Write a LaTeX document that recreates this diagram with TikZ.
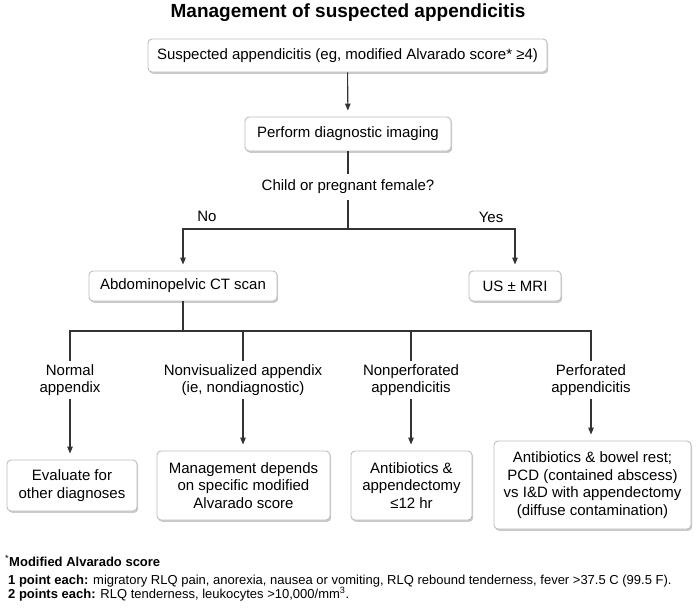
\documentclass[tikz,border=0pt]{standalone}
\usepackage{fontspec}
\setmainfont{Liberation Sans}
\usetikzlibrary{arrows.meta,shadows}

\definecolor{linegray}{HTML}{333333}
\definecolor{boxgray}{HTML}{BDBDBD}

\begin{document}
\begin{tikzpicture}[x=1pt, y=-1pt,
    box/.style={draw=boxgray, line width=0.9pt, rounded corners=4pt, fill=white, align=center, inner sep=0pt,
      font=\fontsize{15}{17.7}\selectfont, drop shadow={shadow xshift=1.2pt, shadow yshift=-1.8pt, fill=black!60, opacity=0.35}},
    lbl/.style={align=center, inner xsep=0pt, inner ysep=3pt, font=\fontsize{15}{17.7}\selectfont},
    ln/.style={draw=linegray, line width=1.1pt},
    arr/.style={ln, -{Triangle[length=7pt, width=5.5pt]}, shorten >=6pt},
    fn/.style={anchor=base west, inner sep=0pt, font=\fontsize{13}{15}\selectfont}]

    \useasboundingbox (0,0) rectangle (696,613);

    \node[font=\bfseries\fontsize{19}{22}\selectfont] (title) at (348,13) {Management of suspected appendicitis};

    % top of the chart
    \node[box, minimum width=399pt, minimum height=33pt] (susp) at (347.5,55.5) {Suspected appendicitis (eg, modified Alvarado score* ≥4)};
    \node[box, minimum width=206pt, minimum height=34pt] (img)  at (348,134)    {Perform diagnostic imaging};
    \node[lbl, minimum height=26pt]                      (quest) at (348,187)   {Child or pregnant female?};
    \coordinate (split) at (348,229);

    \node[lbl] (no)  at (207,216) {No};
    \node[lbl] (yes) at (491,217) {Yes};

    \node[box, minimum width=188pt, minimum height=30pt] (ct) at (183,286) {Abdominopelvic CT scan};
    \node[box, minimum width=92pt,  minimum height=30pt] (us) at (515,286) {US ± MRI};

    \draw[arr] (susp) -- (img);
    \draw[ln]  (img) -- (quest);
    \draw[ln]  (quest) -- (split);
    \draw[arr] (split) -| (ct);
    \draw[arr] (split) -| (us);

    % CT findings
    \coordinate (fan) at (183,331);
    \node[lbl] (normal)  at (70,380)  {Normal\\appendix};
    \node[lbl] (nonvis)  at (243,380) {Nonvisualized appendix\\(ie, nondiagnostic)};
    \node[lbl] (nonperf) at (411,380) {Nonperforated\\appendicitis};
    \node[lbl] (perf)    at (591,380) {Perforated\\appendicitis};

    \node[box, minimum width=130pt, minimum height=51pt] (eval) at (72,485.5)    {Evaluate for\\other diagnoses};
    \node[box, minimum width=173pt, minimum height=69pt] (mgmt) at (243.5,485.5) {Management depends\\on specific modified\\Alvarado score};
    \node[box, minimum width=121pt, minimum height=69pt] (anti) at (411.5,485.5) {Antibiotics \&\\appendectomy\\≤12 hr};
    \node[box, minimum width=197pt, minimum height=88pt] (pcd)  at (592.5,485)   {Antibiotics \& bowel rest;\\PCD (contained abscess)\\vs I\&D with appendectomy\\(diffuse contamination)};

    \draw[ln] (ct) -- (fan);
    \draw[ln] (fan) -| (normal);
    \draw[ln] (fan) -| (nonvis);
    \draw[ln] (fan) -| (nonperf);
    \draw[ln] (fan) -| (perf);

    \draw[arr] (normal)  -- (normal.south |- eval.north);
    \draw[arr] (nonvis)  -- (nonvis.south |- mgmt.north);
    \draw[arr] (nonperf) -- (nonperf.south |- anti.north);
    \draw[arr] (perf)    -- (perf.south |- pcd.north);

    % footnote
    \node[fn] (fnhead) at (5,566)  {\textsuperscript{*}\textbf{Modified Alvarado score}};
    \node[fn] (fnone)  at (8,584)  {\textbf{1 point each:} migratory RLQ pain, anorexia, nausea or vomiting, RLQ rebound tenderness, fever >37.5 C (99.5 F).};
    \node[fn] (fntwo)  at (8,598)  {\textbf{2 points each:} RLQ tenderness, leukocytes >10,000/mm\textsuperscript{3}.};

\end{tikzpicture}
\end{document}
